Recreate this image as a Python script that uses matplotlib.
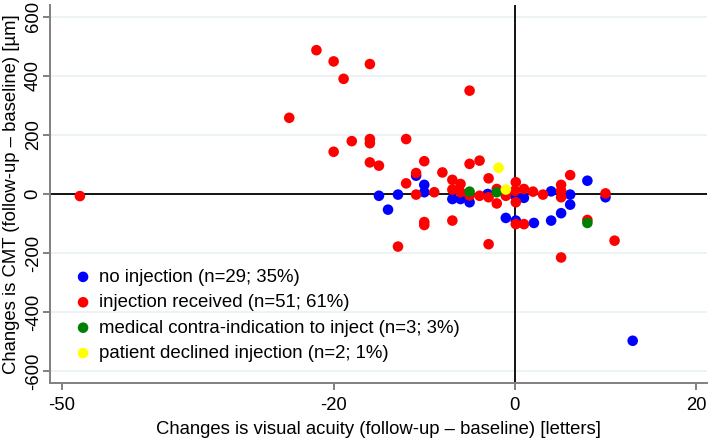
import matplotlib
matplotlib.use("Agg")
import matplotlib.pyplot as plt

plt.rcParams['font.family'] = ['Liberation Sans', 'DejaVu Sans']

# Data: (change in visual acuity [letters], change in CMT [um])
no_inj_x = [-10.9, -10.0, -15.0, -12.9, -14.0, -10.0, -6.9, -6.0, -5.0, -3.0, 0.0, 1.0,
            -1.0, 0.1, 2.1, 4.0, 6.1, 6.1, 8.0, 10.0, 5.1, 4.0, 13.0]
no_inj_y = [62, 31, -6, -2, -53, 6, -17, -17, -28, 0, -5, -13,
            -81, -90, -98, 9, -2, -36, 45, -11, -65, -90, -497]

inj_x = [-48.0, -21.9, -20.0, -16.0, -18.9, -24.9, -18.0, -16.0, -16.0, -12.0, -20.0,
         -16.0, -15.0, -10.0, -10.9, -12.0, -8.0, -5.0, -3.9, -2.9, -6.9, -6.0, -10.9,
         -8.9, -6.9, -6.0, -5.0, -3.9, -2.9, -2.0, -2.0, -1.0, 0.1, 0.1, 0.0, 1.0, 2.0,
         3.1, 5.1, 5.1, 5.1, 6.1, 10.0, 0.1, 1.0, -10.0, -10.0, -6.9, -12.9, -2.9, 8.0,
         11.0, 5.1, -5.0]
inj_y = [-7, 487, 449, 440, 390, 258, 179, 186, 172, 186, 143,
         107, 96, 111, 71, 36, 73, 102, 113, 53, 48, 34, -2,
         6, 15, 6, -5, -6, -11, -32, 17, -6, 40, -28, 11, 17, 8,
         -2, 31, 11, -11, 64, 2, -102, -102, -95, -105, -90, -178, -170, -88,
         -158, -215, 350]

contra_x = [-5.0, -2.0, 8.0]
contra_y = [8, 6, -98]

declined_x = [-1.8, -1.0]
declined_y = [89, 15]

labels = ["no injection (n=29; 35%)",
          "injection received (n=51; 61%)",
          "medical contra-indication to inject (n=3; 3%)",
          "patient declined injection (n=2; 1%)"]
colors = ["#0000FF", "#FF0000", "#008000", "#FFFF00"]

xticks = [-50, -20, 0, 20]
yticks = [-600, -400, -200, 0, 200, 400, 600]

fig = plt.figure(figsize=(7.12, 4.40), dpi=100)
ax = fig.add_axes([50/712, 1-383/440, 657/712, 378/440])

ax.set_xlim(-51.3, 21.2)
ax.set_ylim(-640, 640)

for t in yticks:
    if t != 0:
        ax.axhline(t, color="#EAF2F3", lw=1.3, zorder=0)
ax.axhline(0, color="black", lw=1.3, zorder=1)
ax.axvline(0, color="black", lw=1.3, zorder=1)

series = [(no_inj_x, no_inj_y), (inj_x, inj_y), (contra_x, contra_y), (declined_x, declined_y)]
for (xs, ys), c, lab in zip(series, colors, labels):
    ax.scatter(xs, ys, s=58, color=c, edgecolors='none', label=lab, zorder=3)

for side in ['top', 'right']:
    ax.spines[side].set_visible(False)
for side in ['left', 'bottom']:
    ax.spines[side].set_color("#808080")
    ax.spines[side].set_linewidth(1.4)

ax.set_xticks(xticks)
ax.set_xticklabels([str(t) for t in xticks])
ax.set_yticks(yticks)
ax.set_yticklabels([str(t) for t in yticks], rotation=90, va='center')
ax.tick_params(axis='both', colors="#808080", labelcolor="black", length=5, width=1.4,
               labelsize=13.3)
ax.tick_params(axis='y', pad=1)
ax.tick_params(axis='x', pad=5)

ax.set_xlabel("Changes is visual acuity (follow-up \u2013 baseline) [letters]", fontsize=13.3, labelpad=5)
ax.set_ylabel("Changes is CMT (follow-up \u2013 baseline) [\u00b5m]", fontsize=13.3, labelpad=3)

leg = ax.legend(loc='upper left', bbox_to_anchor=(0.022, 0.322), frameon=False, fontsize=13.4,
                handletextpad=0.25, labelspacing=0.45, borderaxespad=0, markerscale=1.0,
                handlelength=1.2)

fig.savefig("out.png", dpi=100)
